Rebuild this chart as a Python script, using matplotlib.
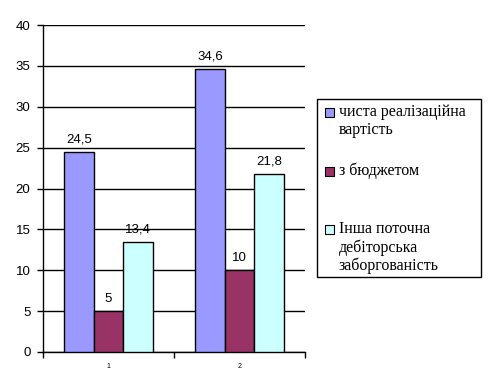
import matplotlib.pyplot as plt
import matplotlib.patches as mpatches
import numpy as np

categories = ["1", "2"]
series_names = ["чиста реалізаційна\nвартість", "з бюджетом",
                "Інша поточна\nдебіторська\nзаборгованість"]
values = [[24.5, 34.6], [5, 10], [13.4, 21.8]]
labels = [["24,5", "34,6"], ["5", "10"], ["13,4", "21,8"]]
colors = ["#9999FF", "#993366", "#CCFFFF"]

W, H = 492, 385
fig = plt.figure(figsize=(W / 100, H / 100), dpi=100)
ax = fig.add_axes([43 / W, 1 - 352 / H, 262 / W, 327 / H])

x = np.arange(len(categories))
w = 0.224
for i in range(3):
    pos = x + (i - 1) * w
    ax.bar(pos, values[i], w, color=colors[i], edgecolor="black", linewidth=1, zorder=3)
    for p, v, t in zip(pos, values[i], labels[i]):
        ax.text(p, v + 0.8, t, ha="center", va="bottom", fontsize=9.5,
                family="Liberation Sans", zorder=4)

ax.set_ylim(0, 40)
ax.set_xlim(-0.5, 1.5)
ax.set_yticks(range(0, 41, 5))
ax.yaxis.grid(True, color="black", linewidth=1, zorder=0)
ax.set_xticks([-0.5, 0.5, 1.5])
ax.set_xticklabels([])
ax.set_xticks(x, minor=True)
ax.set_xticklabels(categories, minor=True, fontsize=5, family="Liberation Sans")
ax.tick_params(axis="x", which="minor", length=0, pad=8)
ax.tick_params(axis="x", which="major", length=4, width=1, color="black")
ax.tick_params(axis="y", length=4, width=1, labelsize=9.5, pad=5)
for t in ax.get_yticklabels():
    t.set_family("Liberation Sans")
ax.spines["top"].set_visible(False)
ax.spines["right"].set_visible(False)
ax.spines["left"].set_linewidth(1)
ax.spines["bottom"].set_linewidth(1)

# legend drawn by hand so the spacing follows the original
fig.patches.append(mpatches.Rectangle((317 / W, 1 - 277 / H), 164 / W, 178 / H,
                                      transform=fig.transFigure, facecolor="white",
                                      edgecolor="black", linewidth=1))
line_y = [[112, 130], [171], [229, 248, 266]]
for c, name, ys in zip(colors, series_names, line_y):
    fig.patches.append(mpatches.Rectangle((325 / W, 1 - (ys[0] + 4.5) / H), 9 / W, 9 / H,
                                          transform=fig.transFigure, facecolor=c,
                                          edgecolor="black", linewidth=0.8))
    for line, yy in zip(name.split("\n"), ys):
        fig.text(339 / W, 1 - yy / H, line, ha="left", va="center",
                 family="Liberation Serif", fontsize=11.5)

fig.savefig("out.png", dpi=100)
